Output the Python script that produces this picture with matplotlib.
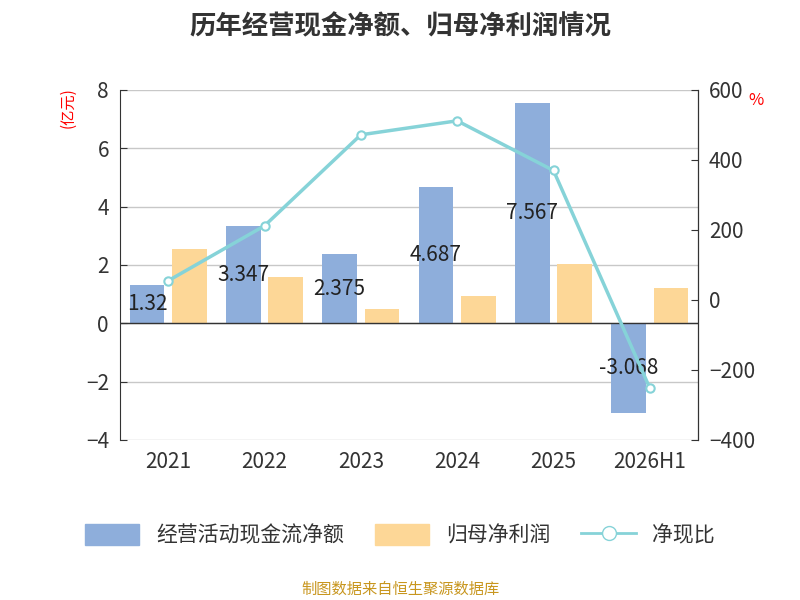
import numpy as np
import matplotlib
matplotlib.use("Agg")
import matplotlib.pyplot as plt
from matplotlib.lines import Line2D
from matplotlib.patches import Patch

plt.rcParams['font.family'] = ['Noto Sans CJK SC', 'DejaVu Sans']

years = ["2021", "2022", "2023", "2024", "2025", "2026H1"]
cash_flow = [1.32, 3.347, 2.375, 4.687, 7.567, -3.068]
net_profit = [2.55, 1.6, 0.5, 0.92, 2.03, 1.22]
ratio = [55, 212, 472, 512, 370, -252]

BLUE = "#8eaedb"
ORANGE = "#fdd797"
TEAL = "#86d3d8"

fig = plt.figure(figsize=(8, 6), dpi=100)
ax = fig.add_axes([0.15, 0.2667, 0.7225, 0.5833])
x = np.arange(len(years))
w = 0.36
ax.bar(x - 0.22, cash_flow, w, color=BLUE, zorder=2)
ax.bar(x + 0.22, net_profit, w, color=ORANGE, zorder=2)
for xi, v in zip(x, cash_flow):
    ax.text(xi - 0.22, v / 2, f"{v:g}", ha="center", va="center", fontsize=15, color="#222222", zorder=5)
ax.set_ylim(-4, 8)
ax.set_yticks(range(-4, 9, 2))
ax.set_xlim(-0.5, 5.5)
ax.set_xticks(x)
ax.set_xticklabels(years)
ax.grid(axis="y", color="#c8c8c8", linewidth=1, zorder=0)
ax.axhline(0, color="#333333", linewidth=1, zorder=3)
ax.tick_params(axis="both", labelsize=15, colors="#333333", length=0, pad=8)
ax.tick_params(axis="y", length=5, direction="in")
for s in ["top", "bottom"]:
    ax.spines[s].set_visible(False)
ax.spines["left"].set_color("#333333")
ax.text(-0.09, 0.95, "(亿元)", transform=ax.transAxes, rotation=90, color="red", fontsize=11, ha="center", va="center")

ax2 = ax.twinx()
ax2.plot(x, ratio, color=TEAL, linewidth=2.5, marker="o", markersize=6,
         markerfacecolor="white", markeredgecolor=TEAL, markeredgewidth=1.5, zorder=4)
ax2.set_ylim(-400, 600)
ax2.set_yticks(range(-400, 601, 200))
ax2.tick_params(axis="y", labelsize=15, colors="#333333", length=5, direction="in", pad=8)
for s in ["top", "bottom", "left"]:
    ax2.spines[s].set_visible(False)
ax2.spines["right"].set_color("#333333")
ax2.text(1.1, 0.97, "%", transform=ax2.transAxes, color="red", fontsize=12, ha="center", va="center")

fig.text(0.5, 0.955, "历年经营现金净额、归母净利润情况", ha="center", va="center",
         fontsize=19, fontweight="bold", color="#333333")
handles = [Patch(color=BLUE), Patch(color=ORANGE),
           Line2D([0], [0], color=TEAL, linewidth=2, marker="o", markersize=10,
                  markerfacecolor="white", markeredgecolor=TEAL)]
fig.legend(handles, ["经营活动现金流净额", "归母净利润", "净现比"], loc="center",
           bbox_to_anchor=(0.5, 0.108), ncol=3, frameon=False, fontsize=15,
           handlelength=2.6, handleheight=1.2, columnspacing=1.5, labelcolor="#333333")
fig.text(0.5, 0.018, "制图数据来自恒生聚源数据库", ha="center", va="center", fontsize=11, color="#c8961e")
fig.savefig("out.png", dpi=100, facecolor="white")
